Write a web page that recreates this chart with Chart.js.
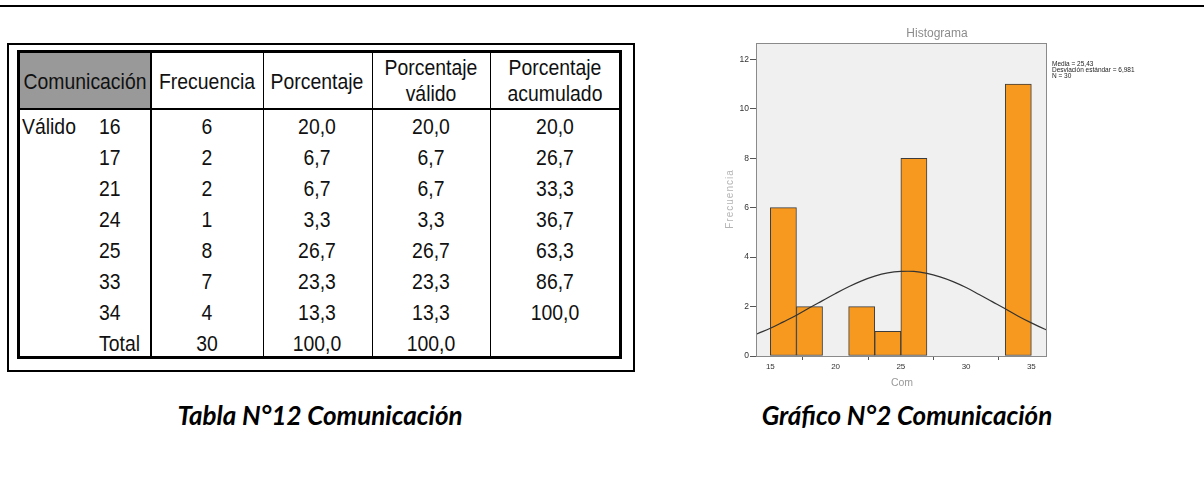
<!DOCTYPE html>
<html>
<head>
<meta charset="utf-8">
<script src="https://cdn.jsdelivr.net/npm/chart.js@4.4.1/dist/chart.umd.min.js"></script>
<style>
  body { margin: 0; width: 1204px; height: 495px; background: #fff; position: relative; overflow: hidden; }
  .abs { position: absolute; }
  .linea { position: absolute; background: #000; }
  .txt { position: absolute; font-family: "Liberation Sans", Arial, sans-serif; font-size: 20px; color: #111; white-space: nowrap; line-height: 1; transform: translate(-50%, -50%) scale(0.97, 1.1); }
  .izq { transform: translate(0, -50%) scale(0.97, 1.1); transform-origin: left center; }
  .cap { position: absolute; font-family: Lato, "Open Sans", sans-serif; font-weight: bold; font-style: italic; font-size: 26px; color: #000; white-space: nowrap; transform: translate(-50%, -50%); }
</style>
</head>
<body>
<div class="linea" style="left:0;top:5px;width:1204px;height:2px;"></div>

<div class="abs" style="left:7px;top:43px;width:628px;height:329px;border:2px solid #000;box-sizing:border-box;"></div>
<div class="abs" style="left:17px;top:50px;width:605px;height:309px;border:3px solid #000;box-sizing:border-box;"></div>
<div class="abs" style="left:20px;top:53px;width:131px;height:55px;background:#999;"></div>
<div id="tabla"></div>

<div class="cap" style="left:320px;top:415px;">Tabla N°12 Comunicación</div>
<div class="cap" style="left:907px;top:415px;">Gráfico N°2 Comunicación</div>

<canvas id="hist" width="504" height="390" style="position:absolute;left:700px;top:15px;"></canvas>

<script>
// tabla de frecuencias
const valores = ['16', '17', '21', '24', '25', '33', '34', 'Total'];
const frecuencia = ['6', '2', '2', '1', '8', '7', '4', '30'];
const porcentaje = ['20,0', '6,7', '6,7', '3,3', '26,7', '23,3', '13,3', '100,0'];
const porcValido = ['20,0', '6,7', '6,7', '3,3', '26,7', '23,3', '13,3', '100,0'];
const porcAcumulado = ['20,0', '26,7', '33,3', '36,7', '63,3', '86,7', '100,0', ''];

// histograma
const binCentros = [16, 18, 22, 24, 26, 34];
const binFrecuencia = [6, 2, 2, 1, 8, 11];
const ticksY = [0, 2, 4, 6, 8, 10, 12];
const ticksX = [15, 20, 25, 30, 35];
// curva normal
const curvaX = [13.9, 14, 15, 16, 17, 18, 19, 20, 21, 22, 23, 24, 25, 26, 27, 28, 29, 30, 31, 32, 33, 34, 35, 36, 36.2];
const curvaY = [0.87, 0.90, 1.12, 1.38, 1.65, 1.95, 2.24, 2.53, 2.80, 3.04, 3.23, 3.36, 3.42, 3.42, 3.34, 3.20, 3.01, 2.77, 2.49, 2.20, 1.91, 1.61, 1.34, 1.09, 1.05];
const estadisticos = ['Media = 25,43', 'Desviación estándar = 6,981', 'N = 30'];

const tabla = document.getElementById('tabla');
function linea(x, y, w, h) {
    const d = document.createElement('div');
    d.className = 'linea';
    d.style.cssText = `left:${x}px;top:${y}px;width:${w}px;height:${h}px;`;
    tabla.appendChild(d);
}
function texto(t, x, y, izq) {
    const d = document.createElement('div');
    d.className = izq ? 'txt izq' : 'txt';
    d.style.left = x + 'px';
    d.style.top = y + 'px';
    d.innerHTML = t;
    tabla.appendChild(d);
}

// lineas internas
linea(150, 53, 2, 303);
linea(263, 53, 1, 303);
linea(372, 53, 1, 303);
linea(490, 53, 1, 303);
linea(20, 108, 599, 2);

// encabezados
texto('Comunicación', 85, 81);
texto('Frecuencia', 207, 81);
texto('Porcentaje', 317, 81);
texto('Porcentaje', 431, 67);
texto('válido', 431, 93);
texto('Porcentaje', 555, 67);
texto('acumulado', 555, 93);

const columnas = [frecuencia, porcentaje, porcValido, porcAcumulado];
const centros = [207, 317, 431, 555];
texto('Válido', 22, 126, true);
valores.forEach((v, i) => {
    const y = 126 + 31 * i;
    texto(v, 99, y, true);
    columnas.forEach((col, j) => texto(col[i], centros[j], y));
});

// fondo y marco del área del gráfico
const marco = {
    id: 'marco',
    beforeDatasetsDraw(chart) {
        const a = chart.chartArea, c = chart.ctx;
        c.save();
        c.fillStyle = '#f0f0f0';
        c.fillRect(a.left, a.top, a.right - a.left, a.bottom - a.top);
        c.restore();
    },
    afterDraw(chart) {
        const a = chart.chartArea, c = chart.ctx;
        c.save();
        c.strokeStyle = '#8a8a8a';
        c.lineWidth = 1;
        c.strokeRect(a.left + 0.5, a.top + 0.5, a.right - a.left - 1, a.bottom - a.top);
        c.textAlign = 'center';
        c.textBaseline = 'middle';
        c.fillStyle = '#8c8c8c';
        c.font = '12px "Liberation Sans", Arial';
        c.fillText('Histograma', 237, 19);
        c.fillStyle = '#9a9a9a';
        c.font = '10.5px "Liberation Sans", Arial';
        c.fillText('Com', 202, 368);
        c.save();
        c.translate(30, 184);
        c.rotate(-Math.PI / 2);
        c.fillStyle = '#b4b4b4';
        c.font = '10px "Liberation Sans", Arial';
        c.letterSpacing = '1px';
        c.fillText('Frecuencia', 0, 0);
        c.restore();
        c.textAlign = 'left';
        c.textBaseline = 'alphabetic';
        c.fillStyle = '#222';
        c.font = '6.5px "Liberation Sans", Arial';
        estadisticos.forEach((t, i) => c.fillText(t, 352, 51 + i * 6));
        c.restore();
    }
};

const ctx = document.getElementById('hist').getContext('2d');
new Chart(ctx, {
    type: 'bar',
    data: {
        datasets: [{
            type: 'line',
            data: curvaX.map((x, i) => ({ x: x, y: curvaY[i] })),
            borderColor: '#333',
            borderWidth: 1.2,
            pointRadius: 0,
            tension: 0.4,
            fill: false,
            order: 0
        }, {
            type: 'bar',
            data: binCentros.map((x, i) => ({ x: x, y: binFrecuencia[i] })),
            backgroundColor: '#f7991f',
            borderColor: '#3c3c3c',
            borderWidth: 1,
            borderSkipped: false,
            barPercentage: 1,
            categoryPercentage: 1,
            order: 1
        }]
    },
    options: {
        responsive: false,
        animation: false,
        layout: { padding: { top: 28, right: 157, left: 0, bottom: 0 } },
        plugins: { legend: { display: false }, tooltip: { enabled: false }, title: { display: false } },
        scales: {
            x: {
                type: 'linear',
                min: 13.9,
                max: 36.2,
                offset: false,
                afterFit: s => { s.height = 49; },
                afterBuildTicks: s => { s.ticks = ticksX.map(v => ({ value: v })); },
                grid: { drawOnChartArea: false, tickLength: 4, color: '#555' },
                border: { display: false },
                ticks: { color: '#333', font: { size: 8, family: 'Liberation Sans' }, padding: 2, maxRotation: 0 }
            },
            y: {
                min: 0,
                max: 12.66,
                afterFit: s => { s.width = 56; },
                afterBuildTicks: s => { s.ticks = ticksY.map(v => ({ value: v })); },
                grid: { drawOnChartArea: false, tickLength: 6, color: '#555' },
                border: { display: false },
                ticks: { color: '#333', font: { size: 8.5, family: 'Liberation Sans' }, padding: 1 }
            }
        }
    },
    plugins: [marco]
});
</script>
</body>
</html>
